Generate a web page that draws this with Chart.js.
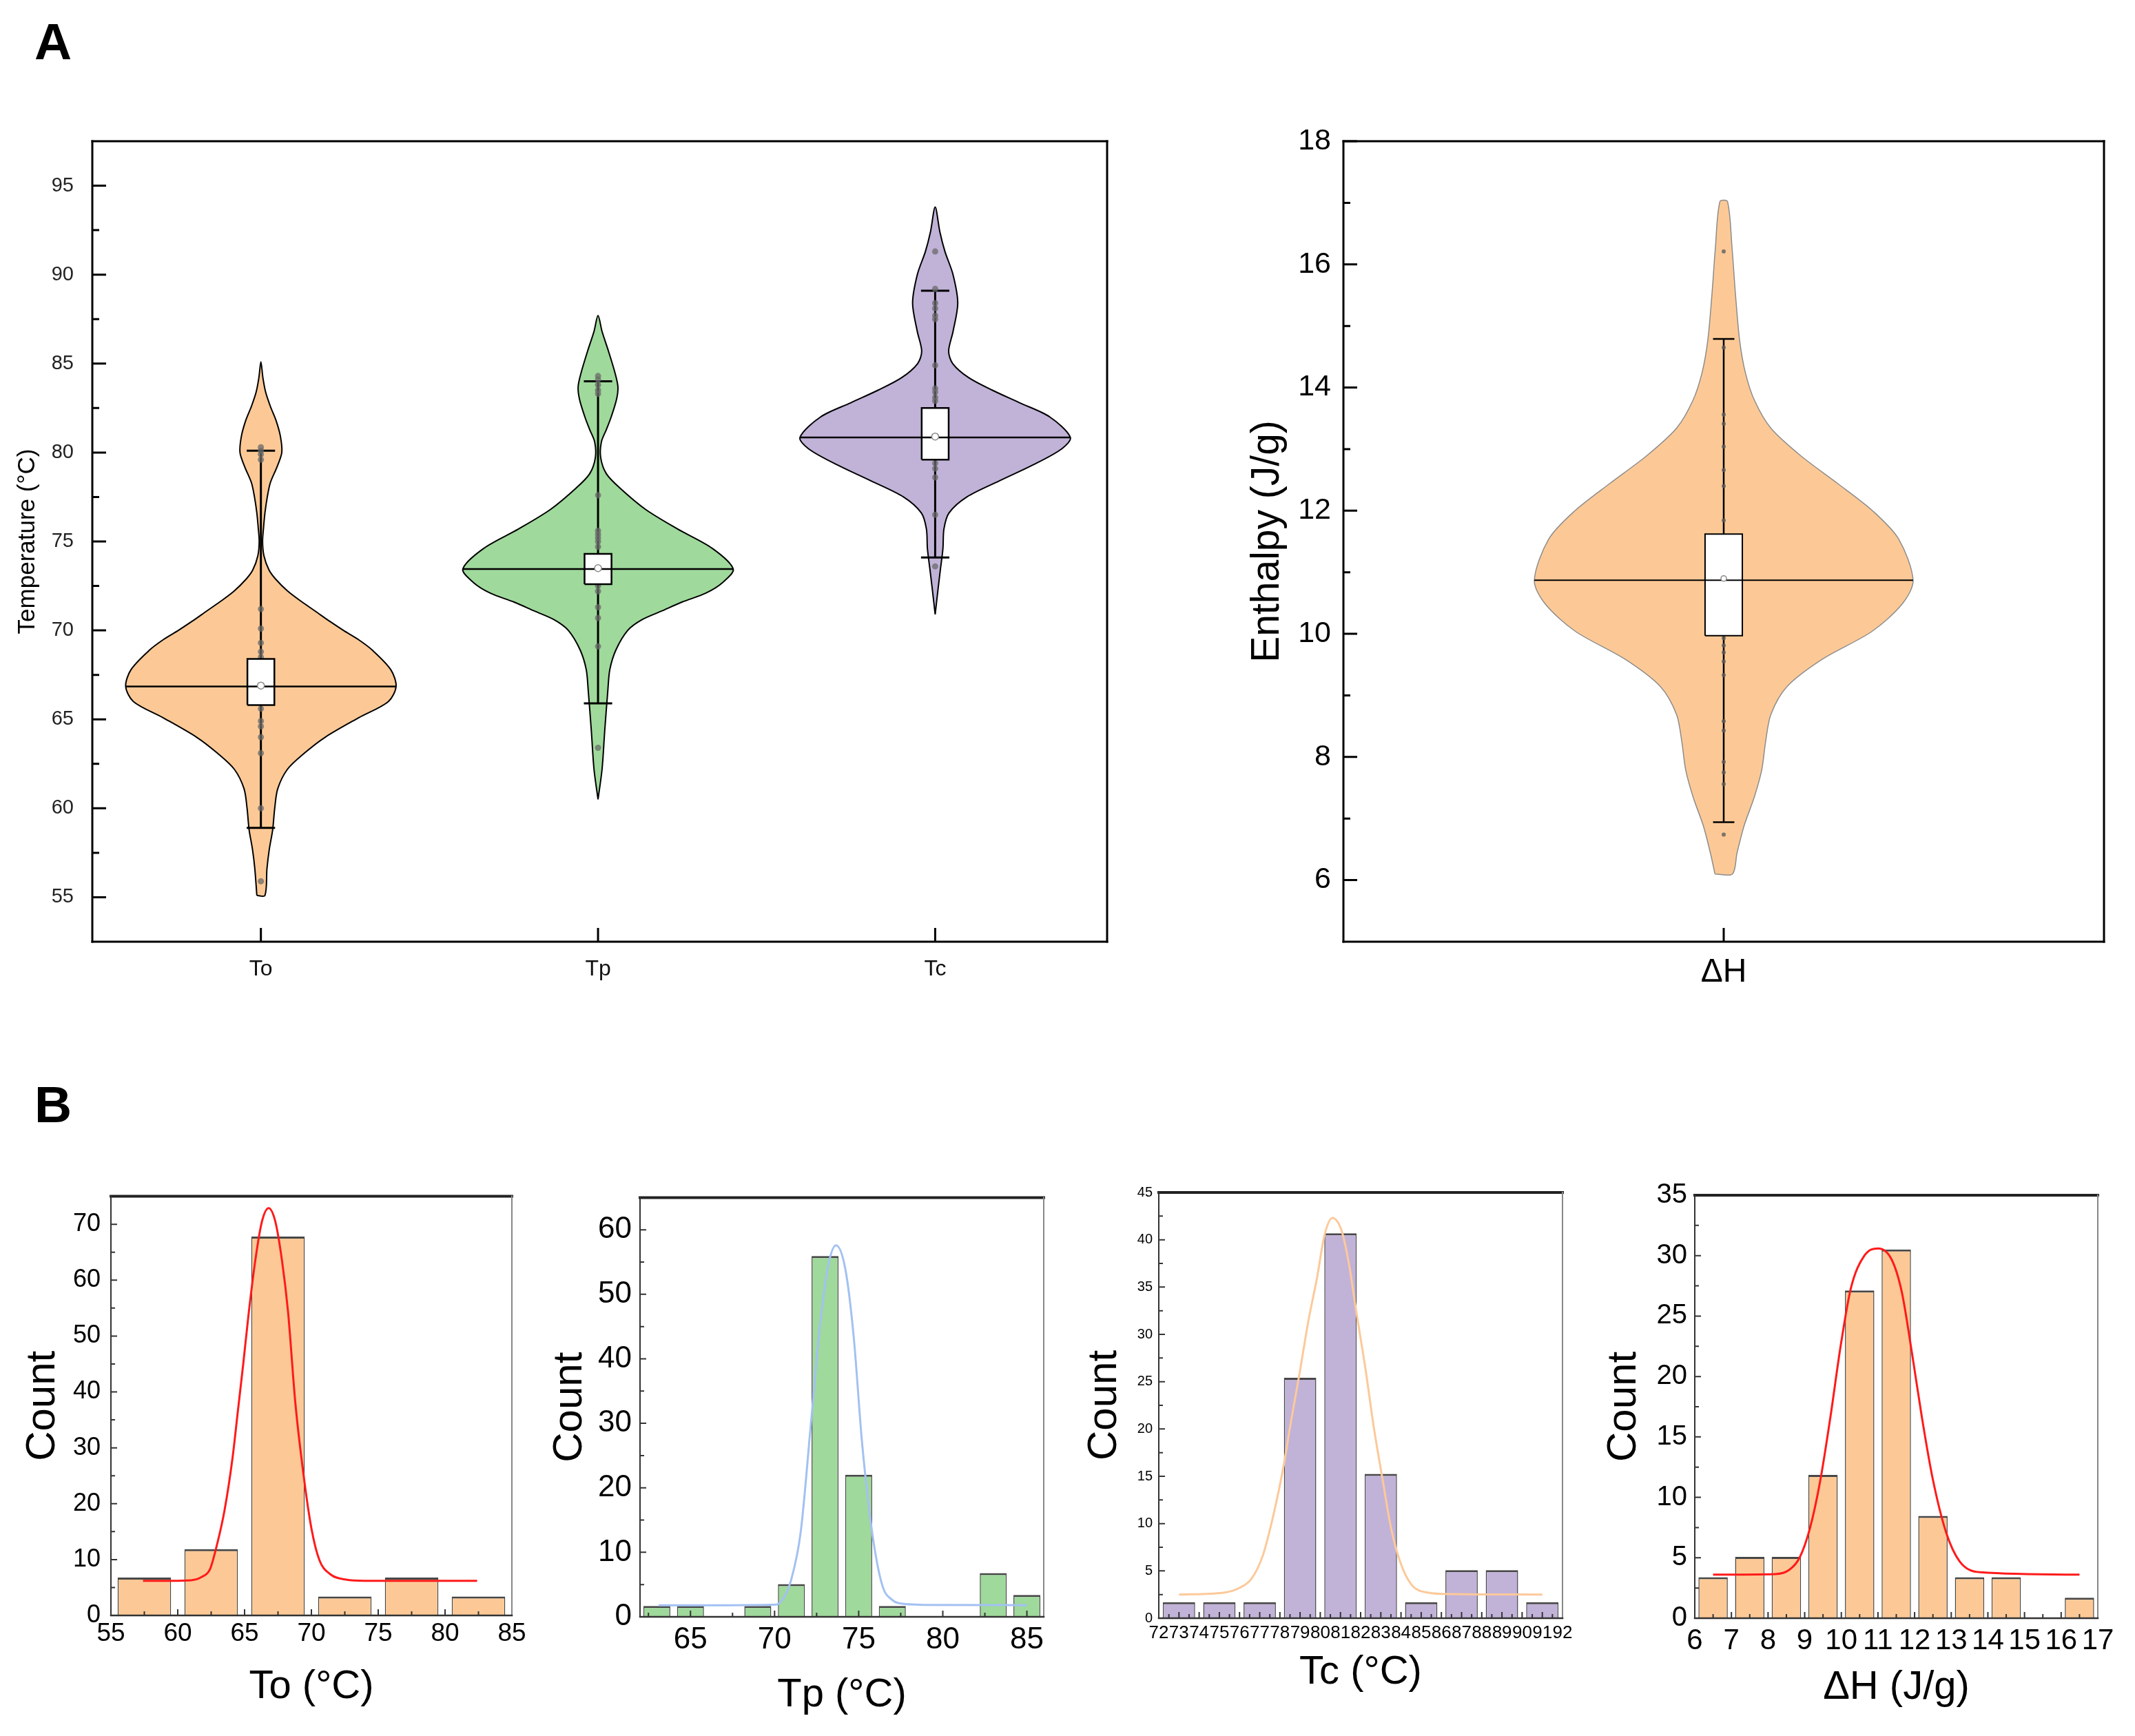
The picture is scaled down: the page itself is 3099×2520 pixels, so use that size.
<!DOCTYPE html>
<html>
<head>
<meta charset="utf-8">
<title>Thermal properties</title>
<script src="https://cdn.jsdelivr.net/npm/chart.js@4.4.1/dist/chart.umd.min.js"></script>
<style>
  html, body { margin: 0; padding: 0; background: #fff; }
  body { width: 3099px; height: 2520px; position: relative; overflow: hidden;
         font-family: 'Liberation Sans', Arial, sans-serif; }
  canvas { position: absolute; }
  .panel { position: absolute; font-weight: bold; font-size: 75px; line-height: 1; }
</style>
</head>
<body>
<div class="panel" style="left:50px; top:23px">A</div>
<div class="panel" style="left:50px; top:1566px">B</div>
<canvas id="violinT" width="1640" height="1330" style="left:0; top:150px"></canvas>
<canvas id="violinH" width="1300" height="1330" style="left:1780px; top:150px"></canvas>
<canvas id="histTo" width="780" height="820" style="left:0; top:1700px"></canvas>
<canvas id="histTp" width="770" height="820" style="left:780px; top:1700px"></canvas>
<canvas id="histTc" width="740" height="820" style="left:1560px; top:1700px"></canvas>
<canvas id="histH" width="770" height="820" style="left:2310px; top:1700px"></canvas>
<script>
// ---- data ----
const catNames = ['To', 'Tp', 'Tc'];
const tempTicks = [55, 60, 65, 70, 75, 80, 85, 90, 95];
const enthalpyTicks = [6, 8, 10, 12, 14, 16, 18];

// violin outlines: [value, half width in category units]
const toViolin = [[55.1, 0.012], [56.6, 0.018], [57.7, 0.025], [58.8, 0.035], [60.0, 0.041], [61.1, 0.050],
  [62.2, 0.079], [63.1, 0.129], [64.0, 0.191], [65.1, 0.291], [66.0, 0.378], [66.85, 0.401], [67.8, 0.385],
  [68.9, 0.330], [69.5, 0.288], [70.0, 0.245], [70.5, 0.205], [71.1, 0.160], [71.6, 0.122], [72.2, 0.080],
  [72.9, 0.043], [73.4, 0.024], [74.2, 0.009], [75.0, 0.005], [75.8, 0.008], [76.6, 0.012], [77.5, 0.019],
  [78.3, 0.028], [79.2, 0.048], [80.0, 0.062], [80.9, 0.058], [81.8, 0.045], [82.6, 0.028], [83.4, 0.014],
  [84.2, 0.006], [85.1, 0]];
const tpViolin = [[60.5, 0], [62.2, 0.012], [64.4, 0.020], [66.6, 0.029], [67.8, 0.035], [68.9, 0.053],
  [70.0, 0.088], [70.6, 0.130], [71.1, 0.190], [71.6, 0.250], [72.1, 0.320], [72.7, 0.370], [73.45, 0.401],
  [74.6, 0.340], [75.7, 0.236], [76.8, 0.141], [78.0, 0.065], [78.8, 0.025], [79.7, 0.008], [80.6, 0.010],
  [81.3, 0.025], [82.0, 0.039], [83.0, 0.055], [83.7, 0.059], [84.5, 0.050], [85.7, 0.031], [86.8, 0.012], [87.7, 0]];
const tcViolin = [[70.9, 0], [72.4, 0.009], [73.5, 0.016], [74.6, 0.023], [75.7, 0.026], [76.6, 0.041],
  [77.5, 0.094], [78.4, 0.190], [79.3, 0.290], [80.2, 0.375], [80.85, 0.401], [82.0, 0.340], [82.8, 0.250],
  [83.5, 0.170], [84.2, 0.100], [85.0, 0.052], [85.7, 0.040], [86.8, 0.053], [88.4, 0.067], [90.0, 0.053],
  [91.3, 0.029], [92.4, 0.014], [93.8, 0]];
const dhViolin = [[6.10, 0.023], [6.44, 0.035], [6.89, 0.054], [7.34, 0.080], [7.79, 0.100], [8.24, 0.110],
  [8.69, 0.124], [9.14, 0.166], [9.59, 0.260], [10.04, 0.390], [10.49, 0.470], [10.87, 0.498], [11.54, 0.460],
  [11.99, 0.393], [12.44, 0.300], [12.89, 0.203], [13.34, 0.124], [13.79, 0.081], [14.24, 0.057],
  [14.76, 0.042], [15.51, 0.031], [16.26, 0.022], [17.02, 0.010]];

// box stats: [whisker low, Q1, median, Q3, whisker high, mean]
const toStats = [58.9, 65.8, 66.85, 68.4, 80.1, 66.9];
const tpStats = [65.9, 72.6, 73.45, 74.3, 84.0, 73.5];
const tcStats = [74.1, 79.6, 80.85, 82.5, 89.1, 80.9];
const dhStats = [6.94, 9.97, 10.87, 11.62, 14.79, 10.9];

// raw samples plotted on the whisker
const toPoints = [55.9, 60.0, 63.1, 64.0, 64.6, 64.9, 65.6, 68.5, 68.8, 69.3, 70.1, 71.2, 79.6, 79.9, 80.1, 80.3];
const tpPoints = [63.4, 69.1, 70.7, 71.3, 72.2, 72.5, 74.7, 75.0, 75.2, 75.4, 75.6, 77.6, 83.3, 83.5, 83.8, 84.1, 84.3];
const tcPoints = [73.6, 76.5, 78.6, 79.1, 79.4, 82.9, 83.1, 83.4, 83.6, 84.9, 87.5, 87.7, 88.1, 88.4, 89.2, 91.3];
const dhPoints = [6.74, 7.56, 7.75, 7.92, 8.43, 8.58, 9.33, 9.55, 9.70, 9.81, 9.93, 11.84, 12.40, 12.66,
  13.04, 13.41, 13.56, 14.65, 16.21];

// histograms (bin centres, counts) and fitted curves [x, y]
const h1Centers = [57.5, 62.5, 67.5, 72.5, 77.5, 82.5];
const h1Counts = [6.78, 11.86, 67.8, 3.39, 6.78, 3.39];
const h1Fit = [[57.4, 6.2], [59.5, 6.2], [61.0, 6.3], [61.8, 6.9], [62.4, 8.2], [62.9, 12.3], [63.5, 18.8],
  [64.1, 28.2], [64.5, 36.6], [64.9, 45.0], [65.3, 53.9], [65.8, 63.5], [66.3, 70.5], [66.8, 72.9], [67.3, 70.5],
  [67.8, 63.5], [68.25, 54.4], [68.8, 38.0], [69.4, 25.4], [70.0, 15.6], [70.6, 9.9], [71.4, 7.4], [72.6, 6.4],
  [74.0, 6.2], [82.4, 6.2]];
const h1XTicks = [55, 60, 65, 70, 75, 80, 85];
const h1YTicks = [0, 10, 20, 30, 40, 50, 60, 70];

const h2Centers = [63, 65, 69, 71, 73, 75, 77, 83, 85];
const h2Counts = [1.69, 1.69, 1.69, 5.08, 55.93, 22.03, 1.69, 6.78, 3.39];
const h2Fit = [[63.1, 1.8], [66.0, 1.8], [70.1, 1.9], [70.6, 3.2], [70.95, 5.4], [71.55, 13.1], [72.15, 29.7],
  [72.7, 45.2], [73.2, 54.6], [73.65, 57.6], [74.2, 54.0], [74.7, 43.5], [75.2, 27.0], [75.8, 13.1], [76.4, 4.9],
  [77.0, 2.6], [77.4, 2.1], [79.0, 1.85], [85.0, 1.8]];
const h2XTicks = [65, 70, 75, 80, 85];
const h2YTicks = [0, 10, 20, 30, 40, 50, 60];

const h3Centers = [73, 75, 77, 79, 81, 83, 85, 87, 89, 91];
const h3Counts = [1.69, 1.69, 1.69, 25.42, 40.68, 15.25, 1.69, 5.08, 5.08, 1.69];
const h3Fit = [[73.0, 2.5], [75.2, 2.7], [76.0, 3.2], [76.6, 4.2], [77.15, 6.6], [77.7, 11.1], [78.15, 15.7],
  [78.55, 20.8], [79.0, 26.2], [79.4, 31.3], [79.85, 36.1], [80.2, 40.4], [80.6, 42.3], [81.05, 41.0],
  [81.4, 37.7], [81.8, 32.2], [82.25, 26.2], [82.65, 20.2], [83.1, 14.5], [83.5, 9.6], [83.95, 6.0],
  [84.5, 3.6], [85.35, 2.7], [86.5, 2.55], [91.0, 2.5]];
const h3XTicks = [72, 73, 74, 75, 76, 77, 78, 79, 80, 81, 82, 83, 84, 85, 86, 87, 88, 89, 90, 91, 92];
const h3YTicks = [0, 5, 10, 15, 20, 25, 30, 35, 40, 45];

const h4Centers = [6.5, 7.5, 8.5, 9.5, 10.5, 11.5, 12.5, 13.5, 14.5, 15.5, 16.5];
const h4Counts = [3.39, 5.08, 5.08, 11.86, 27.12, 30.51, 8.47, 3.39, 3.39, 0, 1.69];
const h4Fit = [[6.5, 3.6], [8.2, 3.65], [8.58, 4.0], [8.86, 5.0], [9.14, 7.4], [9.42, 11.3], [9.7, 16.6],
  [9.98, 22.5], [10.26, 27.3], [10.63, 30.0], [11.0, 30.6], [11.37, 29.7], [11.65, 27.0], [11.93, 21.9],
  [12.2, 16.6], [12.49, 11.6], [12.86, 7.1], [13.23, 4.7], [13.79, 3.8], [16.5, 3.6]];
const h4XTicks = [6, 7, 8, 9, 10, 11, 12, 13, 14, 15, 16, 17];
const h4YTicks = [0, 5, 10, 15, 20, 25, 30, 35];

// ---- colours ----
const PEACH = '#FCC996';
const GREEN = '#9FD99B';
const PURPLE = '#C1B2D8';

Chart.defaults.font.family = "'Liberation Sans', Arial, sans-serif";
Chart.defaults.color = '#000';

// inward tick marks + frame around the plot area
const frameTicks = {
  id: 'frameTicks',
  afterDatasetsDraw(chart, args, o) {
    const { ctx, chartArea: a } = chart;
    const xs = chart.scales.x, ys = chart.scales.y;
    ctx.save();
    ctx.strokeStyle = o.tickColor;
    ctx.lineWidth = o.tickWidth;
    ctx.beginPath();
    const yTick = (v, len) => { const p = ys.getPixelForValue(v); ctx.moveTo(a.left, p); ctx.lineTo(a.left + len, p); };
    const xTick = (v, len) => { const p = xs.getPixelForValue(v); ctx.moveTo(p, a.bottom); ctx.lineTo(p, a.bottom - len); };
    ys.ticks.forEach(t => yTick(t.value, o.major));
    xs.ticks.forEach(t => xTick(t.value, o.major));
    minorValues(ys, o.yMinor).forEach(v => yTick(v, o.minor));
    minorValues(xs, o.xMinor).forEach(v => xTick(v, o.minor));
    ctx.stroke();

    const edge = (spec, x1, y1, x2, y2) => {
      ctx.beginPath();
      ctx.lineWidth = spec[0];
      ctx.strokeStyle = spec[1];
      ctx.moveTo(x1, y1);
      ctx.lineTo(x2, y2);
      ctx.stroke();
    };
    const f = o.frame;
    ctx.lineCap = 'square';
    edge(f.top, a.left, a.top, a.right, a.top);
    edge(f.right, a.right, a.top, a.right, a.bottom);
    edge(f.bottom, a.left, a.bottom, a.right, a.bottom);
    edge(f.left, a.left, a.top, a.left, a.bottom);
    ctx.restore();
  }
};

function minorValues(scale, step) {
  if (!step) return [];
  const majors = scale.ticks.map(t => t.value);
  const out = [];
  for (let k = Math.ceil(scale.min / step - 1e-9); k * step < scale.max - 1e-9; k++) {
    const v = k * step;
    if (v <= scale.min + 1e-9) continue;
    if (majors.some(m => Math.abs(m - v) < 1e-6)) continue;
    out.push(v);
  }
  return out;
}

const fixW = w => s => { s.width = w; };
const fixH = h => s => { s.height = h; };
const setTicks = vals => s => { s.ticks = vals.map(v => ({ value: v })); };

// closed outline: left side bottom->top, right side top->bottom
function outline(c, rows) {
  const left = rows.map(([y, w]) => ({ x: c - w, y }));
  const right = rows.filter(r => r[1] > 0).map(([y, w]) => ({ x: c + w, y })).reverse();
  const pts = left.concat(right);
  pts.push(pts[0]);
  return pts;
}

function whisker(c, lo, hi, cap) {
  return [{ x: c - cap, y: hi }, { x: c + cap, y: hi }, { x: c, y: null },
          { x: c, y: hi }, { x: c, y: lo }, { x: c, y: null },
          { x: c - cap, y: lo }, { x: c + cap, y: lo }];
}

function boxPath(c, q1, q3, hw) {
  return [{ x: c - hw, y: q1 }, { x: c + hw, y: q1 }, { x: c + hw, y: q3 }, { x: c - hw, y: q3 }, { x: c - hw, y: q1 }];
}

function violinSets(c, rows, pts, stats, fill, st) {
  const [lo, q1, med, q3, hi, mean] = stats;
  const wMax = Math.max(...rows.map(r => r[1]));
  return [
    { type: 'line', showLine: true, data: outline(c, rows), fill: 'shape', backgroundColor: fill,
      borderColor: st.edge, borderWidth: st.edgeW, tension: 0.3, pointRadius: 0, order: 10 },
    { type: 'line', showLine: true, data: whisker(c, lo, hi, st.cap), borderColor: '#000',
      borderWidth: st.lineW, tension: 0, pointRadius: 0, fill: false, order: 8 },
    { type: 'scatter', data: pts.map(y => ({ x: c, y })), pointRadius: st.dotR,
      backgroundColor: st.dot, borderWidth: 0, order: 6 },
    { type: 'line', showLine: true, data: boxPath(c, q1, q3, st.box), fill: 'shape', backgroundColor: '#fff',
      borderColor: '#000', borderWidth: st.boxW, tension: 0, pointRadius: 0, order: 4 },
    { type: 'line', showLine: true, data: [{ x: c - wMax, y: med }, { x: c + wMax, y: med }],
      borderColor: '#000', borderWidth: st.medW, pointRadius: 0, fill: false, order: 2 },
    { type: 'scatter', data: [{ x: c, y: mean }], pointRadius: st.meanR, backgroundColor: '#fff',
      borderColor: '#8a8a8a', borderWidth: 1.5, order: 1 }
  ];
}

const common = {
  responsive: false,
  devicePixelRatio: 1,
  animation: false,
  events: [],
};

const noGrid = { display: false, drawTicks: false };

// ---- panel A, temperatures ----
const tStyle = { edge: '#000', edgeW: 2, cap: 0.042, lineW: 3, dotR: 4.5, dot: 'rgba(105,105,105,0.75)',
  box: 0.04, boxW: 2.5, medW: 2.5, meanR: 5 };

new Chart(document.getElementById('violinT'), {
  type: 'scatter',
  data: {
    datasets: [
      ...violinSets(1, toViolin, toPoints, toStats, PEACH, tStyle),
      ...violinSets(2, tpViolin, tpPoints, tpStats, GREEN, tStyle),
      ...violinSets(3, tcViolin, tcPoints, tcStats, PURPLE, tStyle)
    ]
  },
  options: {
    ...common,
    layout: { padding: { top: 55, right: 33, left: 0, bottom: 0 } },
    scales: {
      x: {
        type: 'linear', min: 0.5, max: 3.51,
        afterBuildTicks: setTicks([1, 2, 3]), afterFit: fixH(113),
        grid: noGrid, border: { display: false },
        ticks: { callback: v => catNames[v - 1], padding: 21, font: { size: 32 }, color: '#111',
                 autoSkip: false, maxRotation: 0 }
      },
      y: {
        type: 'linear', min: 52.5, max: 97.5,
        afterBuildTicks: setTicks(tempTicks), afterFit: fixW(134),
        grid: noGrid, border: { display: false },
        ticks: { padding: 27, font: { size: 29 }, color: '#222' },
        title: { display: true, text: 'Temperature (°C)', font: { size: 35 }, padding: { top: 19, bottom: 0 } }
      }
    },
    plugins: {
      legend: { display: false },
      tooltip: { enabled: false },
      frameTicks: { tickColor: '#000', tickWidth: 3, major: 20, minor: 10, yMinor: 2.5, xMinor: 0,
        frame: { top: [3, '#000'], right: [3, '#000'], bottom: [3, '#000'], left: [3, '#000'] } }
    }
  },
  plugins: [frameTicks]
});

// ---- panel A, enthalpy ----
const hStyle = { edge: '#8c8c8c', edgeW: 1.5, cap: 0.028, lineW: 2.5, dotR: 3, dot: 'rgba(95,95,95,0.8)',
  box: 0.049, boxW: 2, medW: 2, meanR: 4 };

new Chart(document.getElementById('violinH'), {
  type: 'scatter',
  data: { datasets: violinSets(1, dhViolin, dhPoints, dhStats, PEACH, hStyle) },
  options: {
    ...common,
    layout: { padding: { top: 55, right: 26, left: 0, bottom: 0 } },
    scales: {
      x: {
        type: 'linear', min: 0, max: 2,
        afterBuildTicks: setTicks([1]), afterFit: fixH(113),
        grid: noGrid, border: { display: false },
        ticks: { callback: () => 'ΔH', padding: 16, font: { size: 48 }, autoSkip: false, maxRotation: 0 }
      },
      y: {
        type: 'linear', min: 5, max: 18,
        afterBuildTicks: setTicks(enthalpyTicks), afterFit: fixW(170),
        grid: noGrid, border: { display: false },
        ticks: { padding: 18, font: { size: 43 } },
        title: { display: true, text: 'Enthalpy (J/g)', font: { size: 57 }, padding: { top: 26, bottom: 0 } }
      }
    },
    plugins: {
      legend: { display: false },
      tooltip: { enabled: false },
      frameTicks: { tickColor: '#000', tickWidth: 3, major: 20, minor: 10, yMinor: 1, xMinor: 0,
        frame: { top: [3, '#000'], right: [3, '#000'], bottom: [3, '#000'], left: [3, '#000'] } }
    }
  },
  plugins: [frameTicks]
});

// ---- panel B, histograms ----
function histogram(id, o) {
  return new Chart(document.getElementById(id), {
    type: 'bar',
    data: {
      datasets: [
        { type: 'line', xAxisID: 'x', data: o.fit.map(([x, y]) => ({ x, y })), borderColor: o.fitColor,
          borderWidth: 3, pointRadius: 0, cubicInterpolationMode: 'monotone', fill: false, order: 0 },
        { type: 'bar', xAxisID: 'xb', data: o.centers.map((x, i) => ({ x, y: o.counts[i] })),
          backgroundColor: o.color, borderColor: '#474747',
          borderWidth: { top: 3, left: 1.5, right: 1.5, bottom: 0 },
          grouped: false, barPercentage: 0.8, categoryPercentage: 1, order: 1 }
      ]
    },
    options: {
      ...common,
      layout: { padding: { top: 31, right: o.padRight, left: 0, bottom: 0 } },
      scales: {
        x: {
          type: 'linear', min: o.xMin, max: o.xMax, offset: false,
          afterBuildTicks: setTicks(o.xTicks), afterFit: fixH(o.xH),
          grid: noGrid, border: { display: false },
          ticks: { autoSkip: false, maxRotation: 0, minRotation: 0, padding: o.xPad, font: { size: o.xFont } },
          title: { display: true, text: o.xTitle, font: { size: 58 }, padding: { top: 0, bottom: o.titlePad } }
        },
        xb: {
          type: 'linear', display: false, min: o.xMin, max: o.xMax, offset: false,
          afterBuildTicks: setTicks(o.centers)
        },
        y: {
          type: 'linear', min: 0, max: o.yMax,
          afterBuildTicks: setTicks(o.yTicks), afterFit: fixW(o.yW),
          grid: noGrid, border: { display: false },
          ticks: { padding: o.yPad, font: { size: o.yFont } },
          title: { display: true, text: 'Count', font: { size: 60 }, padding: { top: o.countPad, bottom: 0 } }
        }
      },
      plugins: {
        legend: { display: false },
        tooltip: { enabled: false },
        frameTicks: { tickColor: '#333', tickWidth: 2, major: 9, minor: 6, yMinor: o.yMinor, xMinor: o.xMinor,
          frame: { top: [4, '#222'], right: [2, '#888'], bottom: [2.5, '#333'], left: [2, '#333'] } }
      }
    },
    plugins: [frameTicks]
  });
}

histogram('histTo', {
  centers: h1Centers, counts: h1Counts, fit: h1Fit, color: PEACH, fitColor: '#FF1A1A',
  xMin: 55, xMax: 85, yMax: 75, xTicks: h1XTicks, yTicks: h1YTicks, xMinor: 2.5, yMinor: 5,
  xTitle: 'To (°C)', padRight: 37, yW: 161, xH: 175, xPad: 5, xFont: 37, yPad: 15, yFont: 36,
  titlePad: 36, countPad: 26
});

histogram('histTp', {
  centers: h2Centers, counts: h2Counts, fit: h2Fit, color: GREEN, fitColor: '#A3C1F2',
  xMin: 62, xMax: 86, yMax: 65, xTicks: h2XTicks, yTicks: h2YTicks, xMinor: 2.5, yMinor: 5,
  xTitle: 'Tp (°C)', padRight: 35, yW: 149, xH: 173, xPad: 7, xFont: 44, yPad: 12, yFont: 44,
  titlePad: 24, countPad: 11
});

histogram('histTc', {
  centers: h3Centers, counts: h3Counts, fit: h3Fit, color: PURPLE, fitColor: '#FCC99A',
  xMin: 72, xMax: 92, yMax: 45, xTicks: h3XTicks, yTicks: h3YTicks, xMinor: 0.5, yMinor: 2.5,
  xTitle: 'Tc (°C)', padRight: 32, yW: 122, xH: 171, xPad: 6, xFont: 26, yPad: 9, yFont: 20,
  titlePad: 57, countPad: 7
});

histogram('histH', {
  centers: h4Centers, counts: h4Counts, fit: h4Fit, color: PEACH, fitColor: '#FF1A1A',
  xMin: 6, xMax: 17, yMax: 35, xTicks: h4XTicks, yTicks: h4YTicks, xMinor: 0.5, yMinor: 2.5,
  xTitle: 'ΔH (J/g)', padRight: 35, yW: 150, xH: 171, xPad: 8, xFont: 42, yPad: 11, yFont: 40,
  titlePad: 35, countPad: 11
});
</script>
</body>
</html>
